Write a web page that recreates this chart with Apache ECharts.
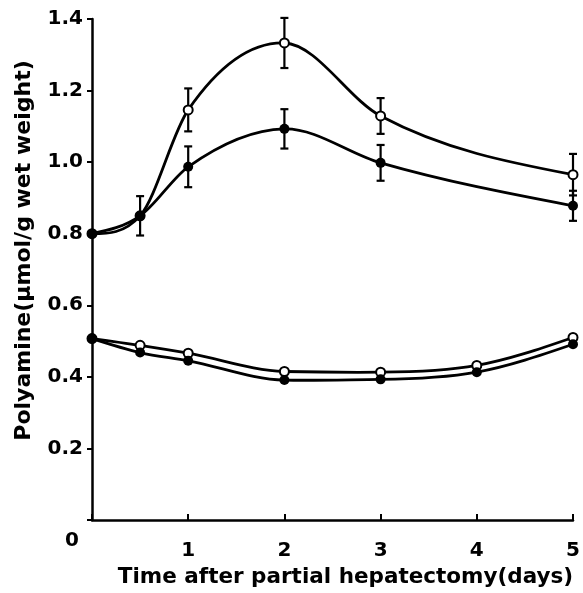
<!DOCTYPE html>
<html>
<head>
<meta charset="utf-8">
<script src="https://cdn.jsdelivr.net/npm/echarts@6/dist/echarts.min.js"></script>
<style>
html,body{margin:0;padding:0;background:#fff}
#chart{width:583px;height:593px}
</style>
</head>
<body>
<div id="chart"></div>
<script>
// time after partial hepatectomy (days)
var upDays = [0, 0.5, 1, 2, 3, 5];
var upperOpen = [0.80, 0.85, 1.146, 1.333, 1.129, 0.965];
var upperOpenErr = [0, 0, 0.06, 0.07, 0.05, 0.058];
var upperFilled = [0.80, 0.85, 0.987, 1.093, 0.998, 0.878];
var upperFilledErr = [0, 0.055, 0.057, 0.055, 0.05, 0.042];

var lowDays = [0, 0.5, 1, 2, 3, 4, 5];
var lowerOpen = [0.507, 0.488, 0.466, 0.415, 0.413, 0.432, 0.510];
var lowerFilled = [0.507, 0.468, 0.445, 0.391, 0.393, 0.413, 0.491];

var xTicks = [0, 1, 2, 3, 4, 5];
var yTicks = [0, 0.2, 0.4, 0.6, 0.8, 1.0, 1.2, 1.4];

var FONT = 'DejaVu Sans';

function pairs(xs, ys){
	var out = [];
	for(var i=0;i<xs.length;i++) out.push([xs[i], ys[i]]);
	return out;
}
function errData(xs, ys, es){
	var out = [];
	for(var i=0;i<xs.length;i++){
		if(es[i] > 0) out.push([xs[i], ys[i], es[i]]);
	}
	return out;
}
function errRender(params, api){
	var x = api.value(0), y = api.value(1), e = api.value(2);
	var top = api.coord([x, y + e]);
	var bot = api.coord([x, y - e]);
	var hw = 4;
	var st = {stroke:'#000', lineWidth:2.2};
	return {type:'group', children:[
		{type:'line', shape:{x1:top[0], y1:top[1], x2:bot[0], y2:bot[1]}, style:st},
		{type:'line', shape:{x1:top[0]-hw, y1:top[1], x2:top[0]+hw, y2:top[1]}, style:st},
		{type:'line', shape:{x1:bot[0]-hw, y1:bot[1], x2:bot[0]+hw, y2:bot[1]}, style:st}
	]};
}

// smooth curve through the points: each data item draws the piece to the next point
function endSlope(sec, inner){
	var s = (3*sec - inner)/2;
	if(s*sec < 0) s = 0;
	return s;
}
function slopes(xs, ys){
	var n = xs.length, m = [], d = [];
	for(var k=0;k<n-1;k++) d.push((ys[k+1]-ys[k])/(xs[k+1]-xs[k]));
	for(var i=0;i<n;i++){
		if(i === 0 || i === n-1) m.push(0);
		else m.push((d[i-1] + d[i])/2);
	}
	m[0] = endSlope(d[0], m[1]);
	m[n-1] = endSlope(d[n-2], m[n-2]);
	// keep pieces from overshooting
	for(var k=0;k<n-1;k++){
		if(d[k] === 0) continue;
		var a = m[k]/d[k], b = m[k+1]/d[k], r = a*a + b*b;
		if(r > 9){
			var t = 3/Math.sqrt(r);
			m[k] = t*a*d[k];
			m[k+1] = t*b*d[k];
		}
	}
	return m;
}
function curveSeries(xs, ys){
	var m = slopes(xs, ys);
	return {
		type:'custom',
		data:pairs(xs, ys),
		z:3,
		silent:true,
		renderItem:function(params, api){
			var i = params.dataIndex;
			if(i >= xs.length - 1) return null;
			var h = xs[i+1] - xs[i];
			var p0 = api.coord([xs[i], ys[i]]);
			var p1 = api.coord([xs[i] + h/3, ys[i] + m[i]*h/3]);
			var p2 = api.coord([xs[i+1] - h/3, ys[i+1] - m[i+1]*h/3]);
			var p3 = api.coord([xs[i+1], ys[i+1]]);
			return {
				type:'bezierCurve',
				shape:{x1:p0[0], y1:p0[1], cpx1:p1[0], cpy1:p1[1], cpx2:p2[0], cpy2:p2[1], x2:p3[0], y2:p3[1]},
				style:{stroke:'#000', lineWidth:2.8, fill:null}
			};
		}
	};
}
function pointSeries(xs, ys, filled){
	return {
		type:'scatter',
		data:pairs(xs, ys),
		symbol:'circle',
		symbolSize: filled ? 10 : 9,
		z: filled ? 5 : 4,
		itemStyle:{color: filled ? '#000' : '#fff', borderColor:'#000', borderWidth: filled ? 0 : 2, opacity:1},
		emphasis:{disabled:true},
		silent:true
	};
}

var myChart = echarts.init(document.getElementById('chart'));
var option = {
	backgroundColor:'#fff',
	animation:false,
	grid:{left:92, right:10, top:19, bottom:72},
	xAxis:{
		type:'value',
		min:0, max:5, interval:1,
		name:'Time after partial hepatectomy(days)',
		nameLocation:'middle',
		nameGap:46,
		nameTextStyle:{color:'#000', fontFamily:FONT, fontSize:21.5, fontWeight:'bold', padding:[0,0,0,26]},
		axisLine:{lineStyle:{color:'#000', width:2.5}},
		axisTick:{inside:true, length:6, lineStyle:{color:'#000', width:2}},
		splitLine:{show:false},
		axisLabel:{
			margin:11,
			color:'#000', fontFamily:FONT, fontSize:20, fontWeight:'bold',
			formatter:function(v){ return v === 0 ? '{z|0}' : '{n|' + v + '}'; },
			rich:{
				z:{fontFamily:FONT, fontSize:20, fontWeight:'bold', color:'#000', padding:[0,40,0,0]},
				n:{fontFamily:FONT, fontSize:20, fontWeight:'bold', color:'#000', padding:[10,0,0,0]}
			}
		}
	},
	yAxis:{
		type:'value',
		min:0, max:1.4, interval:0.2,
		name:'Polyamine(μmol/g wet weight)',
		nameLocation:'middle',
		nameGap:57,
		nameTextStyle:{color:'#000', fontFamily:FONT, fontSize:22, fontWeight:'bold', padding:[0,0,0,38]},
		axisLine:{show:true, lineStyle:{color:'#000', width:2.5}},
		axisTick:{show:true, inside:false, length:5, lineStyle:{color:'#000', width:2}},
		splitLine:{show:false},
		axisLabel:{
			margin:9,
			color:'#000', fontFamily:FONT, fontSize:20, fontWeight:'bold',
			formatter:function(v){ return v === 0 ? '' : v.toFixed(1); }
		}
	},
	series:[
		{type:'custom', renderItem:errRender, data:errData(upDays, upperOpen, upperOpenErr), z:2, silent:true},
		{type:'custom', renderItem:errRender, data:errData(upDays, upperFilled, upperFilledErr), z:2, silent:true},
		curveSeries(upDays, upperOpen),
		curveSeries(upDays, upperFilled),
		curveSeries(lowDays, lowerOpen),
		curveSeries(lowDays, lowerFilled),
		pointSeries(upDays, upperOpen, false),
		pointSeries(upDays, upperFilled, true),
		pointSeries(lowDays, lowerOpen, false),
		pointSeries(lowDays, lowerFilled, true)
	]
};
myChart.setOption(option);
</script>
</body>
</html>
